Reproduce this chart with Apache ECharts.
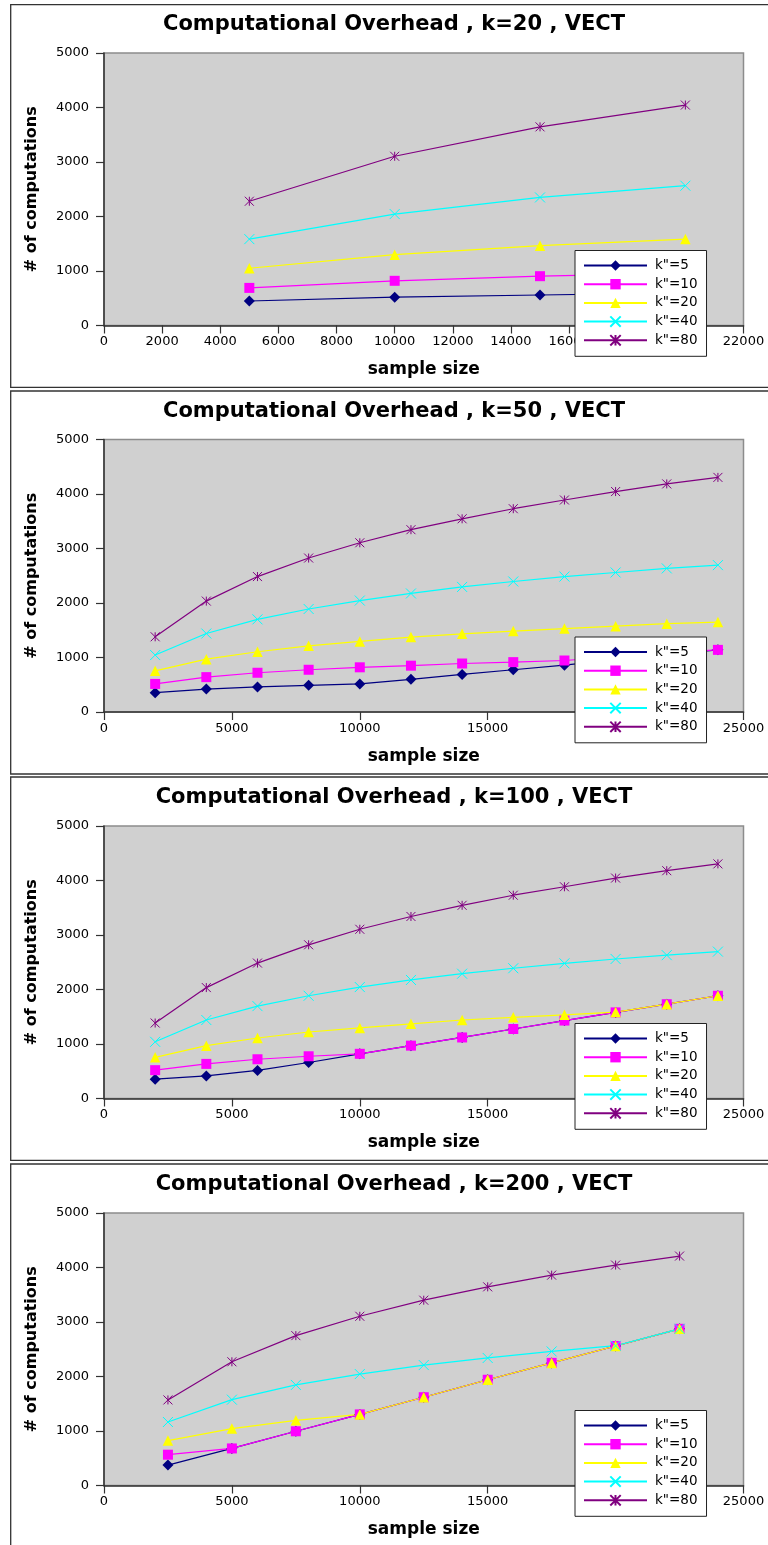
<!DOCTYPE html>
<html>
<head>
<meta charset="utf-8">
<script src="https://cdn.jsdelivr.net/npm/echarts@6/dist/echarts.min.js"></script>
<style>
  html, body { margin: 0; padding: 0; background: #ffffff; }
  #chart { width: 768px; height: 1545px; }
</style>
</head>
<body>
<div id="chart"></div>
<script>
// Legend entries (one line per k" setting)
const seriesNames = ['k"=5', 'k"=10', 'k"=20', 'k"=40', 'k"=80'];

// Chart titles
const panelTitles = [
  'Computational Overhead , k=20 , VECT',
  'Computational Overhead , k=50 , VECT',
  'Computational Overhead , k=100 , VECT',
  'Computational Overhead , k=200 , VECT'
];

// Sample sizes (x values) per chart
const sizesK20 = [5000, 10000, 15000, 20000];
const sizesK50 = [2000, 4000, 6000, 8000, 10000, 12000, 14000, 16000, 18000, 20000, 22000, 24000];
const sizesK100 = [2000, 4000, 6000, 8000, 10000, 12000, 14000, 16000, 18000, 20000, 22000, 24000];
const sizesK200 = [2500, 5000, 7500, 10000, 12500, 15000, 17500, 20000, 22500];

// Number of computations, k=20
const k20_kk5 = [450, 520, 560, 600];
const k20_kk10 = [690, 820, 905, 960];
const k20_kk20 = [1050, 1300, 1465, 1585];
const k20_kk40 = [1585, 2045, 2350, 2565];
const k20_kk80 = [2280, 3105, 3645, 4045];

// Number of computations, k=50
const k50_kk5 = [355, 420, 460, 490, 515, 600, 690, 775, 860, 960, 1050, 1140];
const k50_kk10 = [515, 640, 720, 775, 820, 850, 890, 915, 945, 1010, 1090, 1140];
const k50_kk20 = [755, 970, 1105, 1215, 1295, 1375, 1435, 1485, 1530, 1575, 1620, 1650];
const k50_kk40 = [1045, 1440, 1700, 1890, 2045, 2175, 2295, 2395, 2485, 2560, 2635, 2695];
const k50_kk80 = [1380, 2035, 2485, 2825, 3105, 3345, 3545, 3730, 3890, 4045, 4185, 4305];

// Number of computations, k=100
const k100_kk5 = [355, 415, 515, 660, 820, 970, 1120, 1275, 1430, 1580, 1730, 1885];
const k100_kk10 = [520, 635, 720, 775, 820, 970, 1120, 1275, 1430, 1580, 1730, 1885];
const k100_kk20 = [755, 970, 1110, 1220, 1295, 1370, 1440, 1490, 1535, 1585, 1730, 1885];
const k100_kk40 = [1040, 1440, 1695, 1885, 2045, 2175, 2290, 2390, 2480, 2560, 2630, 2695];
const k100_kk80 = [1385, 2035, 2485, 2820, 3105, 3340, 3545, 3730, 3885, 4045, 4180, 4305];

// Number of computations, k=200
const k200_kk5 = [375, 680, 995, 1305, 1620, 1940, 2250, 2560, 2875];
const k200_kk10 = [565, 680, 995, 1305, 1620, 1940, 2250, 2560, 2875];
const k200_kk20 = [825, 1045, 1195, 1305, 1620, 1940, 2250, 2560, 2875];
const k200_kk40 = [1165, 1575, 1845, 2045, 2210, 2340, 2460, 2565, 2875];
const k200_kk80 = [1570, 2270, 2750, 3105, 3400, 3645, 3860, 4045, 4210];

// Axis ranges and tick steps
const xMaxes = [22000, 25000, 25000, 25000];
const xSteps = [2000, 5000, 5000, 5000];
const yMax = 5000;
const yStep = 1000;

const panelData = [
  { x: sizesK20, ys: [k20_kk5, k20_kk10, k20_kk20, k20_kk40, k20_kk80] },
  { x: sizesK50, ys: [k50_kk5, k50_kk10, k50_kk20, k50_kk40, k50_kk80] },
  { x: sizesK100, ys: [k100_kk5, k100_kk10, k100_kk20, k100_kk40, k100_kk80] },
  { x: sizesK200, ys: [k200_kk5, k200_kk10, k200_kk20, k200_kk40, k200_kk80] }
];

// ---- styling ----
const FONT = 'DejaVu Sans, Verdana, sans-serif';
const lineColors = ['#000080', '#ff00ff', '#ffff00', '#00ffff', '#800080'];
const xMark = 'path://M0,0L10,10M10,0L0,10';
const starMark = 'path://M0,0L10,10M10,0L0,10M5,0L5,10';
const markers = ['diamond', 'rect', 'triangle', xMark, starMark];
const markerSizes = [11, 10, 10.5, 10, 9];
const strokeMarkers = [false, false, false, true, true];
const plainNumber = (v) => String(v);

// Layout of the four stacked charts
const gridTops = [53, 439.5, 826, 1213];
const gridLeft = 104;
const gridWidth = 639.5;
const gridHeight = 272.5;
const frames = [[4.7, 387.3], [391, 774], [777, 1160.3], [1164, 1560]];

const chart = echarts.init(document.getElementById('chart'), null, { renderer: 'canvas' });

const grids = [], xAxes = [], yAxes = [], legends = [], series = [], graphics = [];

gridTops.forEach((top, p) => {
  grids.push({
    left: gridLeft, top: top, width: gridWidth, height: gridHeight,
    show: true, backgroundColor: '#d0d0d0', borderColor: '#8c8c8c', borderWidth: 1.5
  });
  xAxes.push({
    gridIndex: p, type: 'value', min: 0, max: xMaxes[p], interval: xSteps[p],
    name: 'sample size', nameLocation: 'middle', nameGap: 36,
    nameTextStyle: { fontFamily: FONT, fontWeight: 'bold', fontSize: 17, color: '#000' },
    axisLine: { show: true, onZero: false, lineStyle: { color: '#333', width: 1.5 } },
    axisTick: { show: true, length: 8, lineStyle: { color: '#333', width: 1.2 } },
    axisLabel: { margin: 10, fontFamily: FONT, fontSize: 13, color: '#000', formatter: plainNumber },
    splitLine: { show: false }
  });
  yAxes.push({
    gridIndex: p, type: 'value', min: 0, max: yMax, interval: yStep,
    name: '# of computations', nameLocation: 'middle', nameGap: 64, nameRotate: 90,
    nameTextStyle: { fontFamily: FONT, fontWeight: 'bold', fontSize: 16, color: '#000' },
    axisLine: { show: true, onZero: false, lineStyle: { color: '#333', width: 1.5 } },
    axisTick: { show: true, length: 8, lineStyle: { color: '#333', width: 1.2 } },
    axisLabel: { margin: 15, fontFamily: FONT, fontSize: 13, color: '#000', formatter: plainNumber },
    splitLine: { show: false }
  });
  legends.push({
    data: seriesNames, orient: 'vertical', left: 575, top: top + 197.5,
    itemWidth: 63, itemHeight: 13, itemGap: 4.7, padding: [8, 9, 9, 8],
    backgroundColor: '#ffffff', borderColor: '#222', borderWidth: 1,
    selectedMode: false,
    textStyle: { fontFamily: FONT, fontSize: 13.5, color: '#000', lineHeight: 14, padding: [0, 0, 0, 3] }
  });
  const d = panelData[p];
  seriesNames.forEach((nm, s) => {
    const pts = d.x.map((xv, i) => [xv, d.ys[s][i]]);
    series.push({
      name: nm, type: 'line', xAxisIndex: p, yAxisIndex: p, data: pts,
      symbol: markers[s], symbolSize: markerSizes[s], showAllSymbol: true,
      lineStyle: { color: lineColors[s], width: 1.2 },
      itemStyle: strokeMarkers[s]
        ? { color: lineColors[s], borderColor: lineColors[s], borderWidth: 1 }
        : { color: lineColors[s], borderWidth: 0 },
      emphasis: { disabled: true },
      animation: false
    });
  });
  // outer frame of each chart
  const fr = frames[p];
  graphics.push({
    type: 'rect', silent: true, z: 0,
    shape: { x: 10.7, y: fr[0], width: 800, height: fr[1] - fr[0] },
    style: { fill: null, stroke: '#333', lineWidth: 1.3 }
  });
  // chart title
  graphics.push({
    type: 'text', silent: true, x: 394, y: top - 28.3,
    style: {
      text: panelTitles[p], fontFamily: FONT, fontWeight: 'bold', fontSize: 21,
      fill: '#000', align: 'center', verticalAlign: 'middle'
    }
  });
});

chart.setOption({
  animation: false,
  backgroundColor: '#ffffff',
  grid: grids,
  xAxis: xAxes,
  yAxis: yAxes,
  legend: legends,
  series: series,
  graphic: graphics
});
</script>
</body>
</html>
